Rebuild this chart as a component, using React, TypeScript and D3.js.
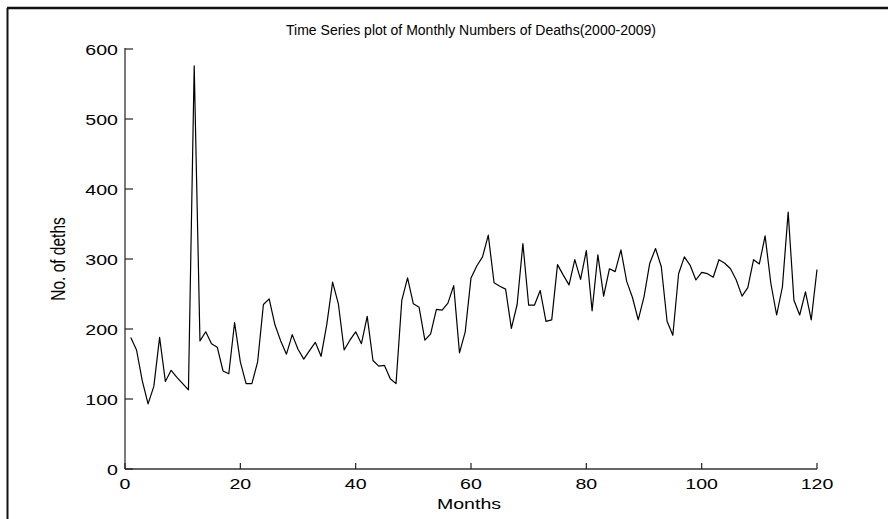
import React, { useEffect, useRef } from 'react';
import * as d3 from 'd3';

// monthly numbers of deaths, month 1..120 (2000-2009)
const DEATHS: number[] = [
  188, 170, 126, 93, 118, 188, 125, 141, 131, 122, 113, 576,
  183, 196, 179, 174, 140, 136, 209, 153, 122, 122, 153, 235,
  243, 206, 183, 164, 192, 171, 157, 169, 181, 161, 207, 267,
  236, 170, 184, 196, 179, 218, 155, 147, 148, 129, 122, 241,
  273, 236, 231, 184, 193, 228, 227, 237, 262, 166, 196, 273,
  290, 303, 334, 266, 261, 257, 201, 235, 322, 234, 234, 255,
  211, 213, 292, 277, 263, 299, 271, 312, 226, 306, 247, 286,
  282, 313, 268, 245, 213, 246, 294, 315, 289, 211, 191, 279,
  303, 291, 270, 281, 279, 274, 299, 294, 286, 270, 247, 259,
  299, 293, 333, 265, 220, 260, 367, 241, 220, 253, 213, 285,
];

const X_TICKS = [0, 20, 40, 60, 80, 100, 120];
const Y_TICKS = [0, 100, 200, 300, 400, 500, 600];

const TITLE = 'Time Series plot of Monthly Numbers of Deaths(2000-2009)';
const X_LABEL = 'Months';
const Y_LABEL = 'No. of deths';

const App: React.FC = () => {
  const svgRef = useRef<SVGSVGElement>(null);

  useEffect(() => {
    if (!svgRef.current) return;
    const svg = d3.select(svgRef.current);
    svg.selectAll('*').remove();

    const width = 888;
    const height = 519;
    const margin = { top: 49, right: 72, bottom: 50, left: 125 };
    const font = 'Liberation Sans, Arial, sans-serif';
    const fs = 14.5;

    // axis text is stretched sideways in the original figure, the title is not
    const label = (px: number, py: number, txt: string | number, anchor: string,
      opts: { rot?: number; size?: number; sx?: number } = {}) =>
      svg.append('text')
        .attr('transform', `translate(${px},${py}) scale(${opts.sx ?? 1.35},1) rotate(${opts.rot ?? 0})`)
        .attr('text-anchor', anchor)
        .attr('font-family', font)
        .attr('font-size', opts.size ?? fs)
        .attr('fill', '#000')
        .text(txt);

    svg.append('rect').attr('width', width).attr('height', height).attr('fill', '#fff');

    // outer frame (left and top edges)
    svg.append('line').attr('x1', 7).attr('x2', width).attr('y1', 8).attr('y2', 8)
      .attr('stroke', '#111').attr('stroke-width', 2.5);
    svg.append('line').attr('x1', 7.5).attr('x2', 7.5).attr('y1', 8).attr('y2', height)
      .attr('stroke', '#111').attr('stroke-width', 2);

    const x = d3.scaleLinear().domain([0, 120]).range([margin.left, width - margin.right + 1]);
    const y = d3.scaleLinear().domain([0, 600]).range([height - margin.bottom, margin.top]);

    // axes lines
    svg.append('line')
      .attr('x1', x(0)).attr('x2', x(120)).attr('y1', y(0)).attr('y2', y(0))
      .attr('stroke', '#666').attr('stroke-width', 2);
    svg.append('line')
      .attr('x1', x(0)).attr('x2', x(0)).attr('y1', y(0)).attr('y2', y(600) - 1)
      .attr('stroke', '#222').attr('stroke-width', 1.2);

    // y ticks (inward)
    Y_TICKS.forEach(v => {
      svg.append('line').attr('x1', x(0)).attr('x2', x(0) + 8).attr('y1', y(v)).attr('y2', y(v))
        .attr('stroke', '#222').attr('stroke-width', 1.2);
      label(x(0) - 7, y(v) + 6, v, 'end');
    });

    // x ticks (inward)
    X_TICKS.forEach(v => {
      svg.append('line').attr('x1', x(v)).attr('x2', x(v)).attr('y1', y(0)).attr('y2', y(0) - 6)
        .attr('stroke', '#222').attr('stroke-width', 1.2);
      label(x(v), y(0) + 20, v, 'middle');
    });

    // series
    const line = d3.line<number>()
      .x((_, i) => x(i + 1))
      .y(d => y(d));
    svg.append('path').datum(DEATHS)
      .attr('d', line)
      .attr('fill', 'none')
      .attr('stroke', '#000')
      .attr('stroke-width', 1.2)
      .attr('stroke-linejoin', 'round');

    // titles
    const cx = (x(0) + x(120)) / 2;
    label(cx, 35, TITLE, 'middle', { sx: 1, size: 14 });
    label(cx - 2, 509, X_LABEL, 'middle');
    label(65, (y(0) + y(600)) / 2, Y_LABEL, 'middle', { rot: -90, size: 15.5 });
  }, []);

  return (
    <svg
      ref={svgRef}
      width={888}
      height={519}
      viewBox="0 0 888 519"
      style={{ position: 'absolute', left: 0, top: 0, display: 'block' }}
    />
  );
};

export default App;
